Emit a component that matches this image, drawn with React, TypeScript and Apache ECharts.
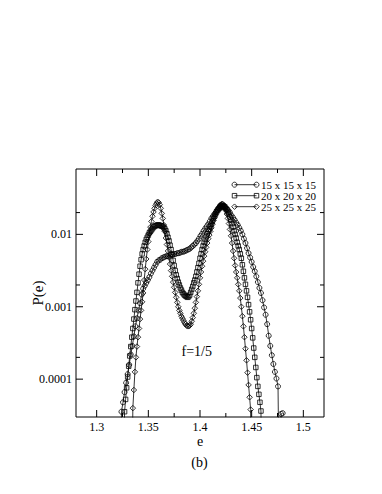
import React, { useEffect, useRef } from "react";
import * as echarts from "echarts";

const FONT = '"Liberation Serif", "Times New Roman", serif';

const seriesNames = ["15 x 15 x 15", "20 x 20 x 20", "25 x 25 x 25"];

// [e, P(e)] ; 1e-6 marks bins that fall below the visible range
const circles15: [number, number][] = [
  [1.3225, 1e-6], [1.324, 3.55e-5], [1.3255, 4.79e-5], [1.327, 6.61e-5], [1.3285, 8.91e-5],
  [1.33, 1.17e-4], [1.3315, 1.58e-4], [1.333, 2.19e-4], [1.3345, 2.88e-4], [1.336, 3.89e-4],
  [1.3375, 5.37e-4], [1.339, 6.92e-4], [1.3405, 8.91e-4], [1.342, 1.12e-3], [1.3435, 1.48e-3],
  [1.345, 1.78e-3], [1.3465, 1.95e-3], [1.348, 2.14e-3], [1.3495, 2.34e-3], [1.351, 2.57e-3],
  [1.3525, 2.88e-3], [1.354, 3.16e-3], [1.3555, 3.47e-3], [1.357, 3.8e-3], [1.3585, 4.17e-3],
  [1.36, 4.37e-3], [1.3615, 4.47e-3], [1.363, 4.68e-3], [1.3645, 4.79e-3], [1.366, 4.9e-3],
  [1.3675, 5.01e-3], [1.369, 5.01e-3], [1.3705, 5.13e-3], [1.372, 5.25e-3], [1.3735, 5.25e-3],
  [1.375, 5.37e-3], [1.3765, 5.37e-3], [1.378, 5.5e-3], [1.3795, 5.5e-3], [1.381, 5.62e-3],
  [1.3825, 5.75e-3], [1.384, 5.75e-3], [1.3855, 5.89e-3], [1.387, 6.03e-3], [1.3885, 6.17e-3],
  [1.39, 6.31e-3], [1.3915, 6.61e-3], [1.393, 6.92e-3], [1.3945, 7.24e-3], [1.396, 7.59e-3],
  [1.3975, 8.13e-3], [1.399, 8.71e-3], [1.4005, 9.55e-3], [1.402, 1.02e-2], [1.4035, 1.12e-2],
  [1.405, 1.2e-2], [1.4065, 1.29e-2], [1.408, 1.38e-2], [1.4095, 1.51e-2], [1.411, 1.66e-2],
  [1.4125, 1.78e-2], [1.414, 1.91e-2], [1.4155, 2.04e-2], [1.417, 2.19e-2], [1.4185, 2.29e-2],
  [1.42, 2.34e-2], [1.4215, 2.4e-2], [1.423, 2.4e-2], [1.4245, 2.34e-2], [1.426, 2.24e-2],
  [1.4275, 2.14e-2], [1.429, 2.0e-2], [1.4305, 1.82e-2], [1.432, 1.7e-2], [1.4335, 1.58e-2],
  [1.435, 1.45e-2], [1.4365, 1.35e-2], [1.438, 1.23e-2], [1.4395, 1.12e-2], [1.441, 1.0e-2],
  [1.4425, 8.71e-3], [1.444, 7.59e-3], [1.4455, 6.46e-3], [1.447, 5.5e-3], [1.4485, 4.79e-3],
  [1.45, 4.17e-3], [1.4515, 3.55e-3], [1.453, 3.09e-3], [1.4545, 2.63e-3], [1.456, 2.19e-3],
  [1.4575, 1.82e-3], [1.459, 1.55e-3], [1.4605, 1.23e-3], [1.462, 9.77e-4], [1.4635, 7.76e-4],
  [1.465, 5.75e-4], [1.4665, 3.98e-4], [1.468, 2.88e-4], [1.4695, 2.14e-4], [1.471, 1.62e-4],
  [1.4725, 1.26e-4], [1.474, 1.02e-4], [1.4755, 7.94e-5], [1.477, 1e-6], [1.4785, 3.31e-5],
  [1.48, 3.39e-5],
];

const squares20: [number, number][] = [
  [1.326, 1e-6], [1.327, 3.55e-5], [1.328, 5.25e-5], [1.329, 7.59e-5], [1.33, 1.07e-4],
  [1.331, 1.51e-4], [1.332, 2.09e-4], [1.333, 2.82e-4], [1.334, 3.8e-4], [1.335, 5.01e-4],
  [1.336, 6.76e-4], [1.337, 9.12e-4], [1.338, 1.2e-3], [1.339, 1.58e-3], [1.34, 2.14e-3],
  [1.341, 2.82e-3], [1.342, 3.63e-3], [1.343, 4.47e-3], [1.344, 5.37e-3], [1.345, 6.17e-3],
  [1.346, 6.92e-3], [1.347, 7.76e-3], [1.348, 8.51e-3], [1.349, 9.12e-3], [1.35, 9.77e-3],
  [1.351, 1.05e-2], [1.352, 1.1e-2], [1.353, 1.15e-2], [1.354, 1.2e-2], [1.355, 1.26e-2],
  [1.356, 1.29e-2], [1.357, 1.32e-2], [1.358, 1.33e-2], [1.359, 1.35e-2], [1.36, 1.35e-2],
  [1.361, 1.33e-2], [1.362, 1.32e-2], [1.363, 1.3e-2], [1.364, 1.29e-2], [1.365, 1.24e-2],
  [1.366, 1.19e-2], [1.367, 1.12e-2], [1.368, 1.02e-2], [1.369, 9.12e-3], [1.37, 8.13e-3],
  [1.371, 7.08e-3], [1.372, 6.17e-3], [1.373, 5.25e-3], [1.374, 4.37e-3], [1.375, 3.72e-3],
  [1.376, 3.16e-3], [1.377, 2.75e-3], [1.378, 2.45e-3], [1.379, 2.19e-3], [1.38, 2.0e-3],
  [1.381, 1.82e-3], [1.382, 1.7e-3], [1.383, 1.58e-3], [1.384, 1.51e-3], [1.385, 1.45e-3],
  [1.386, 1.41e-3], [1.387, 1.38e-3], [1.388, 1.35e-3], [1.389, 1.38e-3], [1.39, 1.45e-3],
  [1.391, 1.58e-3], [1.392, 1.74e-3], [1.393, 1.91e-3], [1.394, 2.14e-3], [1.395, 2.34e-3],
  [1.396, 2.63e-3], [1.397, 3.02e-3], [1.398, 3.47e-3], [1.399, 3.98e-3], [1.4, 4.68e-3],
  [1.401, 5.37e-3], [1.402, 6.17e-3], [1.403, 6.92e-3], [1.404, 7.76e-3], [1.405, 8.51e-3],
  [1.406, 9.33e-3], [1.407, 1.02e-2], [1.408, 1.1e-2], [1.409, 1.17e-2], [1.41, 1.29e-2],
  [1.411, 1.38e-2], [1.412, 1.51e-2], [1.413, 1.66e-2], [1.414, 1.78e-2], [1.415, 1.91e-2],
  [1.416, 2.04e-2], [1.417, 2.14e-2], [1.418, 2.24e-2], [1.419, 2.34e-2], [1.42, 2.45e-2],
  [1.421, 2.51e-2], [1.422, 2.51e-2], [1.423, 2.45e-2], [1.424, 2.4e-2], [1.425, 2.29e-2],
  [1.426, 2.19e-2], [1.427, 2.04e-2], [1.428, 1.91e-2], [1.429, 1.74e-2], [1.43, 1.58e-2],
  [1.431, 1.41e-2], [1.432, 1.26e-2], [1.433, 1.12e-2], [1.434, 1.0e-2], [1.435, 8.91e-3],
  [1.436, 7.76e-3], [1.437, 6.92e-3], [1.438, 6.17e-3], [1.439, 5.37e-3], [1.44, 4.68e-3],
  [1.441, 3.8e-3], [1.442, 3.09e-3], [1.443, 2.51e-3], [1.444, 2.04e-3], [1.445, 1.66e-3],
  [1.446, 1.35e-3], [1.447, 1.07e-3], [1.448, 8.51e-4], [1.449, 6.61e-4], [1.45, 5.01e-4],
  [1.451, 3.72e-4], [1.452, 2.69e-4], [1.453, 2.0e-4], [1.454, 1.45e-4], [1.455, 1.05e-4],
  [1.456, 7.94e-5], [1.457, 6.17e-5], [1.458, 4.79e-5], [1.459, 3.63e-5], [1.46, 1e-6],
];

const diamonds25: [number, number][] = [
  [1.334, 1e-6], [1.335, 3.98e-5], [1.336, 7.08e-5], [1.337, 1.26e-4], [1.338, 2.0e-4],
  [1.339, 2.82e-4], [1.34, 3.8e-4], [1.341, 5.01e-4], [1.342, 6.76e-4], [1.343, 8.91e-4],
  [1.344, 1.17e-3], [1.345, 1.55e-3], [1.346, 2.34e-3], [1.347, 3.31e-3], [1.348, 4.57e-3],
  [1.349, 6.17e-3], [1.35, 7.94e-3], [1.351, 1.02e-2], [1.352, 1.26e-2], [1.353, 1.51e-2],
  [1.354, 1.78e-2], [1.355, 2.04e-2], [1.356, 2.29e-2], [1.357, 2.51e-2], [1.358, 2.69e-2],
  [1.359, 2.82e-2], [1.36, 2.75e-2], [1.361, 2.57e-2], [1.362, 2.29e-2], [1.363, 1.95e-2],
  [1.364, 1.66e-2], [1.365, 1.35e-2], [1.366, 1.1e-2], [1.367, 8.91e-3], [1.368, 7.24e-3],
  [1.369, 5.89e-3], [1.37, 4.79e-3], [1.371, 3.89e-3], [1.372, 3.16e-3], [1.373, 2.63e-3],
  [1.374, 2.19e-3], [1.375, 1.86e-3], [1.376, 1.58e-3], [1.377, 1.35e-3], [1.378, 1.15e-3],
  [1.379, 1.0e-3], [1.38, 8.91e-4], [1.381, 8.13e-4], [1.382, 7.41e-4], [1.383, 6.92e-4],
  [1.384, 6.46e-4], [1.385, 6.03e-4], [1.386, 5.75e-4], [1.387, 5.5e-4], [1.388, 5.37e-4],
  [1.389, 5.37e-4], [1.39, 5.5e-4], [1.391, 5.75e-4], [1.392, 6.31e-4], [1.393, 7.08e-4],
  [1.394, 8.13e-4], [1.395, 9.55e-4], [1.396, 1.15e-3], [1.397, 1.38e-3], [1.398, 1.66e-3],
  [1.399, 2.04e-3], [1.4, 2.51e-3], [1.401, 3.02e-3], [1.402, 3.63e-3], [1.403, 4.27e-3],
  [1.404, 5.01e-3], [1.405, 5.75e-3], [1.406, 6.61e-3], [1.407, 7.59e-3], [1.408, 8.71e-3],
  [1.409, 9.77e-3], [1.41, 1.1e-2], [1.411, 1.23e-2], [1.412, 1.38e-2], [1.413, 1.55e-2],
  [1.414, 1.7e-2], [1.415, 1.86e-2], [1.416, 2.04e-2], [1.417, 2.19e-2], [1.418, 2.34e-2],
  [1.419, 2.45e-2], [1.42, 2.57e-2], [1.421, 2.63e-2], [1.422, 2.63e-2], [1.423, 2.51e-2],
  [1.424, 2.34e-2], [1.425, 2.14e-2], [1.426, 1.91e-2], [1.427, 1.66e-2], [1.428, 1.41e-2],
  [1.429, 1.17e-2], [1.43, 9.55e-3], [1.431, 7.59e-3], [1.432, 5.89e-3], [1.433, 4.68e-3],
  [1.434, 3.72e-3], [1.435, 3.02e-3], [1.436, 2.51e-3], [1.437, 2.04e-3], [1.438, 1.66e-3],
  [1.439, 1.32e-3], [1.44, 1.0e-3], [1.441, 7.41e-4], [1.442, 5.37e-4], [1.443, 3.8e-4],
  [1.444, 2.63e-4], [1.445, 1.82e-4], [1.446, 1.23e-4], [1.447, 8.32e-5], [1.448, 5.62e-5],
  [1.449, 3.8e-5], [1.45, 1e-6],
];

const xMin = 1.28;
const xMax = 1.52;
const yMin = 3e-5;
const yMax = 0.08;
const xMajorTicks = [1.3, 1.35, 1.4, 1.45, 1.5];
const xMinorTicks = [1.325, 1.375, 1.425, 1.475];
const yMajorTicks = [1e-4, 1e-3, 1e-2];
const yMinorTicks = [2e-4, 2e-3, 2e-2];

export default function App() {
  const ref = useRef<HTMLDivElement>(null);

  useEffect(() => {
    if (!ref.current) return;
    const chart = echarts.init(ref.current, null, { renderer: "svg" });

    const markerStyle = {
      color: "rgba(255,255,255,0)",
      borderColor: "#000",
      borderWidth: 0.8,
    };
    const lineStyle = { color: "#000", width: 0.8 };

    const mkSeries = (name: string, data: [number, number][], symbol: string, size: number) => ({
      type: "line",
      name,
      data,
      symbol,
      symbolSize: size,
      showAllSymbol: true,
      clip: true,
      silent: true,
      lineStyle,
      itemStyle: markerStyle,
      emphasis: { disabled: true },
    });

    chart.setOption({
      animation: false,
      backgroundColor: "#fff",
      grid: {
        left: 76,
        top: 169,
        width: 248,
        height: 248,
        show: true,
        borderColor: "#000",
        borderWidth: 1,
        backgroundColor: "transparent",
      },
      xAxis: {
        type: "value",
        min: xMin,
        max: xMax,
        interval: 0.01,
        axisLine: { show: false },
        axisTick: { show: false },
        splitLine: { show: false },
        axisLabel: {
          margin: 4,
          fontSize: 12,
          fontFamily: FONT,
          color: "#000",
          formatter: (v: number) => {
            const k = Math.round(v * 100);
            if (k % 5 !== 0) return "";
            return String(k / 100);
          },
        },
      },
      yAxis: {
        type: "log",
        logBase: 10,
        min: yMin,
        max: yMax,
        axisLine: { show: false },
        axisTick: { show: false },
        splitLine: { show: false },
        axisLabel: {
          margin: 4,
          fontSize: 12,
          fontFamily: FONT,
          color: "#000",
          showMinLabel: false,
          showMaxLabel: false,
          formatter: (v: number) => {
            const lg = Math.log10(v);
            const ex = Math.round(lg);
            if (Math.abs(lg - ex) > 1e-6) return "";
            return Math.pow(10, ex).toFixed(-ex);
          },
        },
      },
      series: [
        mkSeries(seriesNames[0], circles15, "circle", 5),
        mkSeries(seriesNames[1], squares20, "rect", 4.5),
        mkSeries(seriesNames[2], diamonds25, "diamond", 5.5),
      ],
    });

    const xp = (v: number) => chart.convertToPixel({ xAxisIndex: 0 }, v) as number;
    const yp = (v: number) => chart.convertToPixel({ yAxisIndex: 0 }, v) as number;
    const left = xp(xMin);
    const right = xp(xMax);
    const top = yp(yMax);
    const bottom = yp(yMin);

    const tickStyle = { stroke: "#000", lineWidth: 1 };
    const ticks: any[] = [];
    const addX = (v: number, len: number) => {
      const x = xp(v);
      ticks.push({ type: "line", silent: true, shape: { x1: x, y1: bottom, x2: x, y2: bottom - len }, style: tickStyle });
      ticks.push({ type: "line", silent: true, shape: { x1: x, y1: top, x2: x, y2: top + len }, style: tickStyle });
    };
    const addY = (v: number, len: number) => {
      const y = yp(v);
      ticks.push({ type: "line", silent: true, shape: { x1: left, y1: y, x2: left + len, y2: y }, style: tickStyle });
      ticks.push({ type: "line", silent: true, shape: { x1: right, y1: y, x2: right - len, y2: y }, style: tickStyle });
    };
    xMajorTicks.forEach((v) => addX(v, 7));
    xMinorTicks.forEach((v) => addX(v, 4));
    yMajorTicks.forEach((v) => addY(v, 7));
    yMinorTicks.forEach((v) => addY(v, 4));

    const txt = (text: string, x: number, y: number, size: number, align = "center", rotation = 0) => ({
      type: "text",
      silent: true,
      x,
      y,
      rotation,
      style: {
        text,
        fontSize: size,
        fontFamily: FONT,
        fill: "#000",
        align,
        verticalAlign: "middle",
        textAlign: align,
        textVerticalAlign: "middle",
      },
    });

    // legend
    const legendRows = [184.7, 195.7, 206.7];
    const lx1 = 234.5;
    const lx2 = 256.5;
    const legend: any[] = [];
    const mark = (kind: number, x: number, y: number) => {
      const st = { fill: "rgba(255,255,255,0)", stroke: "#000", lineWidth: 0.8 };
      if (kind === 0) return { type: "circle", silent: true, shape: { cx: x, cy: y, r: 2.5 }, style: st };
      if (kind === 1) return { type: "rect", silent: true, shape: { x: x - 2.25, y: y - 2.25, width: 4.5, height: 4.5 }, style: st };
      return {
        type: "polygon",
        silent: true,
        shape: { points: [[x, y - 2.75], [x + 2.75, y], [x, y + 2.75], [x - 2.75, y]] },
        style: st,
      };
    };
    legendRows.forEach((y, i) => {
      legend.push({ type: "line", silent: true, shape: { x1: lx1, y1: y, x2: lx2, y2: y }, style: { stroke: "#000", lineWidth: 0.8 } });
      legend.push(mark(i, lx1, y));
      legend.push(mark(i, lx2, y));
      legend.push(txt(seriesNames[i], 261, y, 11, "left"));
    });

    chart.setOption({
      graphic: [
        ...ticks,
        ...legend,
        txt("P(e)", 38, (top + bottom) / 2, 15, "center", Math.PI / 2),
        txt("e", (left + right) / 2, 441.5, 14),
        txt("f=1/5", 196.7, 351.7, 14),
        txt("(b)", 199.5, 462.3, 14),
      ],
    });

    return () => chart.dispose();
  }, []);

  return (
    <div
      ref={ref}
      style={{ position: "fixed", left: 0, top: 0, width: 382, height: 494, background: "#fff" }}
    />
  );
}
